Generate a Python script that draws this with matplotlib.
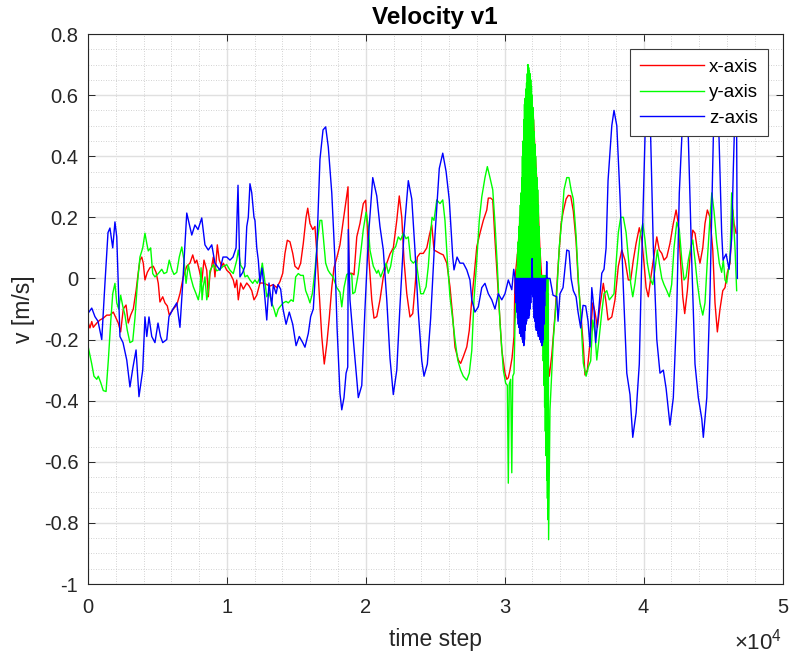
import numpy as np
import matplotlib.pyplot as plt
from matplotlib.ticker import MultipleLocator, FuncFormatter

plt.rcParams['font.family'] = ['Liberation Sans', 'DejaVu Sans']
plt.rcParams['mathtext.fontset'] = 'custom'
plt.rcParams['mathtext.rm'] = 'Liberation Sans'
plt.rcParams['axes.unicode_minus'] = False
plt.rcParams['path.simplify'] = False  # keep the fast oscillation solid

# x-axis velocity (time in thousands of steps, value in m/s)
tk_x = [0.02, 0.14, 0.27, 0.38, 0.63, 0.86, 1.10, 1.35, 1.58, 1.82, 2.02, 2.18, 2.35, 2.54, 2.74,
        2.90, 3.07, 3.26, 3.46, 3.62, 3.74, 3.87, 3.98, 4.10, 4.27, 4.46, 4.70, 4.90, 5.06, 5.18,
        5.38, 5.54, 5.71, 5.85, 6.14, 6.39, 6.62, 6.86, 7.11, 7.34, 7.54, 7.70, 7.83, 8.01, 8.19,
        8.35, 8.55, 8.66, 8.78, 8.91, 9.02, 9.14, 9.31, 9.45, 9.63, 9.74, 9.99, 10.22, 10.46, 10.58,
        10.71, 10.82, 10.99, 11.18, 11.43, 11.61, 11.79, 11.95, 12.15, 12.38, 12.62, 12.87, 13.10,
        13.34, 13.59, 13.82, 14.02, 14.18, 14.35, 14.54, 14.74, 14.90, 15.14, 15.31, 15.50, 15.70,
        15.82, 15.98, 16.18, 16.34, 16.51, 16.65, 16.83, 17.01, 17.19, 17.37, 17.55, 17.71, 17.91,
        18.14, 18.38, 18.58, 18.72, 18.79, 18.99, 19.15, 19.35, 19.58, 19.82, 19.99, 20.11, 20.23,
        20.43, 20.59, 20.79, 21.02, 21.26, 21.51, 21.74, 21.98, 22.23, 22.41, 22.59, 22.75, 22.95,
        23.18, 23.38, 23.54, 23.71, 23.90, 24.14, 24.39, 24.57, 24.75, 24.91, 25.11, 25.34, 25.58,
        25.83, 26.06, 26.26, 26.42, 26.66, 26.83, 27.02, 27.27, 27.45, 27.63, 27.79, 27.99, 28.22,
        28.46, 28.71, 28.82, 28.99, 29.14, 29.30, 29.54, 29.79, 30.02, 30.15, 30.26, 30.38, 30.53,
        30.67, 30.74, 30.96, 31.25, 31.54, 31.82, 32.04, 32.18, 32.35, 32.54, 32.78, 33.03, 33.21,
        33.39, 33.62, 33.86, 34.06, 34.22, 34.42, 34.58, 34.75, 34.94, 35.14, 35.30, 35.50, 35.66,
        35.78, 35.95, 36.14, 36.34, 36.50, 36.67, 36.86, 37.10, 37.30, 37.44, 37.71, 37.94, 38.18,
        38.43, 38.66, 38.90, 39.07, 39.26, 39.46, 39.69, 39.87, 40.03, 40.18, 40.34, 40.51, 40.70,
        40.95, 41.13, 41.31, 41.47, 41.67, 41.90, 42.14, 42.34, 42.50, 42.67, 42.82, 42.96, 43.15,
        43.34, 43.54, 43.70, 43.87, 44.06, 44.26, 44.42, 44.59, 44.78, 44.98, 45.14, 45.31, 45.50,
        45.70, 45.86, 46.03, 46.22, 46.42, 46.51, 46.66]
v_x = [-0.146, -0.162, -0.141, -0.16, -0.146, -0.136, -0.13, -0.12, -0.12, -0.11, -0.13, -0.146,
       -0.175, -0.10, -0.087, -0.146, -0.12, -0.10, -0.04, 0.02, 0.06, 0.07, 0.05, -0.005, 0.02,
       0.035, 0.04, 0.02, -0.016, -0.077, -0.06, -0.08, -0.09, -0.12, -0.10, -0.087, -0.05, 0.005,
       0.04, 0.05, 0.077, 0.05, 0.06, 0.027, -0.012, 0.06, 0.027, -0.06, 0.015, 0.04, 0.07, 0.005,
       0.11, 0.06, 0.04, 0.05, 0.027, 0.017, -0.005, -0.03, -0.005, -0.07, -0.015, -0.035, -0.015,
       -0.025, -0.04, -0.07, -0.055, -0.015, -0.015, -0.02, -0.025, -0.02, -0.03, -0.01, 0.017,
       0.082, 0.125, 0.12, 0.082, 0.04, 0.03, 0.05, 0.115, 0.2, 0.23, 0.18, 0.16, 0.17, 0.06, -0.05,
       -0.19, -0.28, -0.215, -0.13, -0.03, 0.035, 0.067, 0.11, 0.19, 0.255, 0.30, 0.017, 0.017,
       0.012, 0.136, 0.18, 0.245, 0.256, 0.17, 0.06, -0.07, -0.13, -0.125, -0.07, 0.005, 0.05, 0.08,
       0.10, 0.19, 0.27, 0.20, 0.06, -0.05, -0.126, -0.115, -0.03, 0.07, 0.082, 0.082, 0.10, 0.14,
       0.175, 0.093, 0.088, 0.082, 0.077, 0.05, -0.027, -0.126, -0.225, -0.267, -0.278, -0.256,
       -0.224, -0.17, -0.07, 0.005, 0.104, 0.148, 0.19, 0.224, 0.263, 0.263, 0.257, 0.126, -0.05,
       -0.234, -0.31, -0.33, -0.325, -0.30, -0.26, -0.19, 0.0, 0.1, 0.3, 0.5, 0.6, 0.55, 0.42, 0.29,
       0.093, -0.08, -0.234, -0.32, -0.25, -0.12, 0.05, 0.18, 0.22, 0.26, 0.272, 0.27, 0.22, 0.12,
       -0.016, -0.125, -0.22, -0.316, -0.30, -0.21, -0.08, -0.11, -0.16, -0.09, -0.016, -0.08,
       -0.136, -0.126, -0.07, 0.04, 0.093, 0.06, -0.005, -0.005, 0.06, 0.115, 0.166, 0.126, 0.05,
       -0.03, -0.06, 0.0, 0.06, 0.136, 0.093, 0.082, 0.06, 0.07, 0.115, 0.18, 0.224, 0.18, 0.05,
       -0.06, -0.115, -0.04, 0.07, 0.158, 0.148, 0.093, 0.05, 0.10, 0.18, 0.224, 0.2, 0.093, -0.08,
       -0.175, -0.1, -0.04, -0.03, 0.02, 0.05, 0.224, 0.18, 0.148]

# y-axis velocity
tk_y = [0.02, 0.27, 0.43, 0.63, 0.74, 0.91, 1.10, 1.30, 1.46, 1.63, 1.78, 1.94, 2.07, 2.21, 2.35,
        2.50, 2.66, 2.83, 3.02, 3.22, 3.38, 3.55, 3.74, 3.94, 4.10, 4.23, 4.34, 4.51, 4.66, 4.82,
        5.06, 5.31, 5.47, 5.67, 5.85, 6.03, 6.19, 6.39, 6.57, 6.75, 6.91, 7.06, 7.22, 7.39, 7.58,
        7.78, 7.94, 8.06, 8.14, 8.21, 8.30, 8.42, 8.55, 8.66, 8.78, 9.02, 9.27, 9.50, 9.74, 9.99,
        10.22, 10.46, 10.71, 10.82, 10.99, 11.18, 11.30, 11.47, 11.66, 11.86, 12.02, 12.19, 12.38,
        12.55, 12.69, 12.87, 13.03, 13.23, 13.39, 13.54, 13.70, 13.87, 14.06, 14.26, 14.42, 14.62,
        14.78, 14.95, 15.14, 15.31, 15.50, 15.67, 15.84, 15.98, 16.15, 16.34, 16.51, 16.70, 16.83,
        16.94, 17.11, 17.28, 17.42, 17.64, 17.91, 18.14, 18.27, 18.43, 18.63, 18.79, 18.99, 19.06,
        19.22, 19.46, 19.71, 19.82, 20.02, 20.18, 20.30, 20.54, 20.79, 20.90, 21.07, 21.26, 21.46,
        21.62, 21.79, 21.98, 22.15, 22.34, 22.51, 22.70, 22.90, 23.06, 23.23, 23.42, 23.62, 23.78,
        23.95, 24.14, 24.34, 24.50, 24.67, 24.77, 24.91, 25.11, 25.34, 25.54, 25.70, 25.87, 26.06,
        26.26, 26.42, 26.62, 26.83, 27.02, 27.27, 27.45, 27.63, 27.79, 27.99, 28.17, 28.35, 28.58,
        28.75, 28.94, 29.14, 29.30, 29.47, 29.66, 29.90, 30.07, 30.19, 30.26, 30.33, 30.43, 30.51,
        30.58, 30.67, 30.74]
v_y = [-0.225, -0.28, -0.32, -0.33, -0.32, -0.34, -0.367, -0.37, -0.27, -0.146, -0.05, -0.016,
       -0.08, -0.10, -0.055, -0.09, -0.12, -0.17, -0.21, -0.205, -0.13, -0.02, 0.07, 0.10, 0.148,
       0.115, 0.09, 0.10, 0.016, 0.005, 0.016, 0.03, 0.016, 0.02, 0.06, 0.03, 0.013, 0.02, 0.07,
       0.103, 0.06, -0.016, 0.045, 0.005, -0.027, -0.05, -0.07, -0.04, 0.035, -0.07, -0.027, 0.005,
       -0.07, -0.04, 0.025, 0.045, 0.025, 0.03, 0.04, 0.045, 0.027, 0.016, 0.06, 0.093, 0.043, 0.03,
       0.005, 0.01, -0.005, -0.016, -0.005, -0.016, 0.005, 0.05, 0.005, -0.06, -0.045, -0.08, -0.10,
       -0.125, -0.10, -0.09, -0.08, -0.075, -0.08, -0.07, -0.075, 0.005, 0.016, 0.01, 0.01, -0.04,
       -0.06, -0.08, -0.05, 0.027, 0.12, 0.19, 0.19, 0.136, 0.05, 0.027, 0.017, 0.005, -0.03, -0.045,
       -0.093, -0.03, 0.013, 0.017, 0.013, -0.05, -0.045, 0.016, 0.115, 0.16, 0.217, 0.17, 0.093,
       0.04, 0.017, 0.027, 0.005, 0.027, 0.05, 0.017, 0.04, 0.093, 0.104, 0.136, 0.126, 0.148, 0.13,
       0.136, 0.06, 0.05, 0.06, 0.005, -0.05, -0.05, -0.027, 0.04, 0.148, 0.2, 0.19, 0.257, 0.245,
       0.257, 0.19, 0.06, -0.06, -0.136, -0.2, -0.267, -0.3, -0.32, -0.333, -0.31, -0.236, -0.07,
       0.06, 0.19, 0.267, 0.33, 0.366, 0.33, 0.29, 0.18, 0.04, -0.146, -0.30, -0.343, -0.35, -0.67,
       -0.345, -0.33, -0.636, -0.32, -0.31, -0.15]
# y-axis burst (fast oscillation around 3.1e4 - 3.3e4)
tk_y_burst = [30.850, 30.875, 30.900, 30.925, 30.950, 30.975, 31.000, 31.025, 31.050, 31.075,
              31.100, 31.125, 31.150, 31.175, 31.200, 31.225, 31.250, 31.275, 31.300, 31.325,
              31.350, 31.375, 31.400, 31.425, 31.450, 31.475, 31.500, 31.525, 31.550, 31.575,
              31.600, 31.625, 31.650, 31.675, 31.700, 31.725, 31.750, 31.775, 31.800, 31.825,
              31.850, 31.875, 31.900, 31.925, 31.950, 31.975, 32.000, 32.025, 32.050, 32.075,
              32.100, 32.125, 32.150, 32.175, 32.200, 32.225, 32.250, 32.275, 32.300, 32.325,
              32.350, 32.375, 32.400, 32.425, 32.450, 32.475, 32.500, 32.525, 32.550, 32.575,
              32.600, 32.625, 32.650, 32.675, 32.700, 32.725, 32.750, 32.775, 32.800, 32.825,
              32.850, 32.875, 32.900, 32.925, 32.950, 32.975, 33.000, 33.025, 33.050, 33.075,
              33.100, 33.125, 33.140, 33.160]
v_y_burst = [0.0, 0.03, 0.0, 0.08, 0.0, 0.12, -0.01, 0.17, 0.0, 0.20,
             0.0, 0.24, -0.01, 0.28, 0.0, 0.33, 0.0, 0.40, -0.01, 0.45,
             0.0, 0.52, 0.0, 0.57, -0.01, 0.59, 0.0, 0.62, 0.0, 0.64,
             -0.01, 0.67, 0.0, 0.70, 0.0, 0.69, -0.01, 0.68, 0.0, 0.67,
             0.0, 0.65, -0.01, 0.63, 0.0, 0.60, 0.0, 0.56, -0.01, 0.52,
             0.0, 0.48, 0.0, 0.44, -0.01, 0.40, 0.0, 0.36, 0.0, 0.33,
             -0.01, 0.29, 0.0, 0.24, 0.0, 0.17, 0.0, 0.10, 0.01, -0.04,
             0.01, -0.09, 0.0, -0.14, 0.01, -0.20, 0.0, -0.27, 0.01, -0.35,
             0.0, -0.42, 0.01, -0.50, 0.0, -0.58, 0.01, -0.66, 0.0, -0.72,
             0.0, -0.79, -0.05, -0.855]
tk_y_after = [33.26, 33.50, 33.75, 33.93, 34.13, 34.27, 34.47, 34.63, 34.78, 34.94, 35.14, 35.30,
              35.47, 35.66, 35.86, 36.02, 36.19, 36.34, 36.50, 36.63, 36.81, 36.99, 37.15, 37.35,
              37.53, 37.71, 37.87, 38.02, 38.18, 38.35, 38.54, 38.74, 38.90, 39.07, 39.22, 39.38,
              39.55, 39.74, 39.94, 40.10, 40.27, 40.46, 40.66, 40.82, 40.99, 41.13, 41.31, 41.47,
              41.67, 41.85, 42.02, 42.19, 42.39, 42.57, 42.75, 42.91, 43.06, 43.22, 43.39, 43.54,
              43.70, 43.87, 44.06, 44.26, 44.42, 44.59, 44.78, 44.91, 45.07, 45.26, 45.45, 45.62,
              45.74, 45.86, 45.98, 46.10, 46.22, 46.34, 46.46, 46.58, 46.70]
v_y_after = [-0.43, -0.2, -0.05, 0.103, 0.2, 0.29, 0.33, 0.33, 0.29, 0.26, 0.14, 0.0, -0.12, -0.277,
             -0.32, -0.29, -0.27, -0.136, -0.18, -0.267, -0.19, -0.11, -0.05, -0.04, -0.07, -0.06,
             -0.05, 0.05, 0.15, 0.2, 0.2, 0.15, 0.07, -0.016, -0.06, -0.016, 0.05, 0.136, 0.18, 0.126,
             0.05, 0.0, -0.02, 0.03, 0.093, 0.05, 0.0, -0.02, -0.04, -0.06, -0.02, 0.1, 0.184, 0.16,
             0.06, -0.005, 0.005, 0.06, 0.10, 0.126, 0.06, -0.015, -0.08, -0.12, -0.08, 0.06, 0.2,
             0.28, 0.22, 0.12, 0.05, 0.02, 0.06, -0.005, -0.015, 0.025, 0.06, 0.28, 0.2, 0.1, -0.04]

# z-axis velocity
tk_z = [0.02, 0.27, 0.50, 0.72, 0.99, 1.22, 1.44, 1.58, 1.78, 1.94, 2.07, 2.30, 2.52, 2.79, 3.02,
        3.24, 3.46, 3.67, 3.94, 4.10, 4.23, 4.39, 4.59, 4.82, 5.04, 5.22, 5.38, 5.67, 5.83, 6.12,
        6.39, 6.62, 6.82, 7.11, 7.47, 7.70, 7.92, 8.19, 8.42, 8.66, 8.91, 9.14, 9.50, 9.72, 9.99,
        10.22, 10.44, 10.66, 10.80, 10.94, 11.14, 11.30, 11.43, 11.54, 11.66, 11.79, 11.95, 12.02,
        12.15, 12.26, 12.38, 12.53, 12.69, 12.87, 13.03, 13.23, 13.34, 13.54, 13.68, 13.87, 14.04,
        14.26, 14.49, 14.74, 14.98, 15.21, 15.46, 15.62, 15.86, 16.03, 16.22, 16.47, 16.70, 16.92,
        17.11, 17.30, 17.55, 17.78, 17.93, 18.14, 18.27, 18.43, 18.58, 18.70, 18.74, 18.86, 19.10,
        19.35, 19.46, 19.71, 19.94, 20.18, 20.50, 20.79, 21.02, 21.26, 21.51, 21.74, 21.98, 22.23,
        22.46, 22.75, 23.06, 23.31, 23.54, 23.78, 24.03, 24.19, 24.43, 24.67, 24.98, 25.29, 25.54,
        25.78, 26.01, 26.26, 26.35, 26.57, 26.78, 27.02, 27.27, 27.50, 27.63, 27.86, 28.10, 28.35,
        28.58, 28.82, 29.07, 29.30, 29.54, 29.79, 30.02, 30.26, 30.51, 30.65]
v_z = [-0.113, -0.097, -0.125, -0.14, -0.20, -0.016, 0.15, 0.165, 0.10, 0.185, 0.136, -0.19, -0.21,
       -0.267, -0.355, -0.29, -0.234, -0.387, -0.30, -0.126, -0.19, -0.126, -0.19, -0.21, -0.146,
       -0.19, -0.21, -0.2, -0.125, -0.10, -0.08, -0.16, -0.016, 0.214, 0.142, 0.175, 0.16, 0.198,
       0.11, 0.093, 0.11, 0.05, 0.027, 0.07, 0.07, 0.06, 0.07, 0.1, 0.305, 0.005, 0.02, 0.04, 0.17,
       0.2, 0.31, 0.28, 0.2, 0.19, 0.1, 0.06, -0.015, 0.034, -0.04, -0.136, -0.015, -0.09, -0.02,
       -0.05, -0.02, -0.035, -0.1, -0.15, -0.11, -0.15, -0.22, -0.19, -0.21, -0.225, -0.18, -0.125,
       -0.1, 0.093, 0.39, 0.486, 0.496, 0.43, 0.28, 0.06, -0.16, -0.376, -0.43, -0.39, -0.31, -0.29,
       0.16, -0.07, -0.2, -0.33, -0.39, -0.35, -0.1, 0.13, 0.33, 0.27, 0.17, 0.093, -0.07, -0.26,
       -0.38, -0.3, -0.09, 0.15, 0.32, 0.26, 0.093, -0.11, -0.27, -0.32, -0.28, -0.13, 0.14, 0.36,
       0.41, 0.35, 0.257, 0.07, 0.028, 0.07, 0.05, 0.05, 0.028, -0.005, -0.07, -0.11, -0.093, -0.03,
       -0.016, -0.05, -0.07, -0.1, -0.05, -0.07, -0.05, -0.005, -0.037, 0.03]
# z-axis burst
tk_z_burst = [30.750, 30.775, 30.800, 30.825, 30.850, 30.875, 30.900, 30.925, 30.950, 30.975,
              31.000, 31.025, 31.050, 31.075, 31.100, 31.125, 31.150, 31.175, 31.200, 31.225,
              31.250, 31.275, 31.300, 31.325, 31.350, 31.375, 31.400, 31.425, 31.450, 31.475,
              31.500, 31.525, 31.550, 31.575, 31.600, 31.625, 31.650, 31.675, 31.700, 31.725,
              31.750, 31.775, 31.800, 31.825, 31.850, 31.875, 31.900, 31.925, 31.950, 31.975,
              32.000, 32.025, 32.050, 32.075, 32.100, 32.125, 32.150, 32.175, 32.200, 32.225,
              32.250, 32.275, 32.300, 32.325, 32.350, 32.375, 32.400, 32.425, 32.450, 32.475,
              32.500, 32.525, 32.550, 32.575, 32.600, 32.625, 32.650, 32.675, 32.700, 32.725,
              32.750, 32.775, 32.800, 32.825, 32.850, 32.875, 32.900, 32.925, 32.950, 32.975,
              33.000, 33.025, 33.050, 33.075, 33.100]
v_z_burst = [0.0, -0.05, 0.0, -0.08, 0.0, -0.11, 0.0, -0.13, 0.0, -0.15,
             0.0, -0.16, 0.0, -0.18, 0.0, -0.17, 0.0, -0.19, 0.0, -0.18,
             0.0, -0.20, 0.0, -0.21, 0.0, -0.22, 0.0, -0.20, 0.0, -0.17,
             0.0, -0.15, 0.0, -0.14, 0.0, -0.13, 0.0, -0.12, 0.0, -0.13,
             0.0, -0.12, 0.0, -0.10, 0.0, -0.08, 0.0, -0.05, 0.0, 0.065,
             0.0, -0.06, 0.0, -0.10, 0.0, -0.13, 0.0, -0.14, 0.0, -0.16,
             0.0, -0.17, 0.0, -0.16, 0.0, -0.18, 0.0, -0.19, 0.0, -0.18,
             0.0, -0.20, 0.0, -0.19, 0.0, -0.21, 0.0, -0.22, 0.0, -0.21,
             0.0, -0.20, 0.0, -0.15, 0.0, -0.09, 0.0, -0.04, 0.0, 0.0,
             0.0, 0.055, 0.0, 0.0, 0.0]
tk_z_after = [33.26, 33.48, 33.75, 33.84, 33.98, 34.20, 34.47, 34.63, 34.78, 34.94, 35.14, 35.28,
              35.47, 35.64, 35.83, 36.00, 36.14, 36.27, 36.43, 36.55, 36.74, 36.99, 37.15, 37.30,
              37.44, 37.71, 37.87, 38.07, 38.30, 38.54, 38.79, 39.02, 39.22, 39.46, 39.69, 39.86,
              40.10, 40.32, 40.51, 40.70, 40.95, 41.18, 41.42, 41.62, 41.90, 42.14, 42.39, 42.57,
              42.75, 42.98, 43.22, 43.47, 43.70, 43.94, 44.19, 44.30, 44.55, 44.78, 45.02, 45.22,
              45.43, 45.62, 45.72, 45.94, 46.15, 46.34, 46.46, 46.58, 46.69, 46.75]
v_z_after = [0.0, -0.055, -0.06, -0.14, -0.05, -0.03, 0.093, 0.09, 0.0, -0.04, -0.06, -0.11, -0.162,
             -0.088, -0.09, -0.14, -0.224, -0.03, -0.10, -0.21, -0.12, 0.017, 0.03, 0.1, 0.32, 0.5,
             0.55, 0.5, 0.27, -0.03, -0.31, -0.38, -0.52, -0.44, -0.28, 0.05, 0.46, 0.62, 0.46, 0.1,
             -0.2, -0.31, -0.30, -0.36, -0.48, -0.39, -0.1, 0.28, 0.46, 0.6, 0.46, 0.05, -0.28, -0.39,
             -0.46, -0.52, -0.39, -0.05, 0.46, 0.58, 0.46, 0.15, 0.06, 0.08, 0.03, 0.13, 0.36, 0.55,
             0.55, 0.0]

# join pieces, thousands -> time steps
t_x = np.array(tk_x) * 1000
t_y = np.array(tk_y + tk_y_burst + tk_y_after) * 1000
t_z = np.array(tk_z + tk_z_burst + tk_z_after) * 1000
vy_all = v_y + v_y_burst + v_y_after
vz_all = v_z + v_z_burst + v_z_after

fig = plt.figure(figsize=(7.91, 6.57), dpi=100)
ax = fig.add_axes([88 / 791, 1 - 584 / 657, (782.5 - 88) / 791, 550 / 657])

ax.plot(t_x, v_x, color=(1, 0, 0), lw=1.0, label='x-axis')
ax.plot(t_y, vy_all, color=(0, 1, 0), lw=1.0, label='y-axis')
ax.plot(t_z, vz_all, color=(0, 0, 1), lw=1.0, label='z-axis')

ax.set_xlim(0, 50000)
ax.set_ylim(-1, 0.8)
ax.xaxis.set_major_locator(MultipleLocator(10000))
ax.xaxis.set_minor_locator(MultipleLocator(2000))
ax.yaxis.set_major_locator(MultipleLocator(0.2))
ax.yaxis.set_minor_locator(MultipleLocator(0.05))
ax.xaxis.set_major_formatter(FuncFormatter(lambda x, p: '%g' % (x / 1e4)))
ax.yaxis.set_major_formatter(FuncFormatter(lambda y, p: '%g' % (round(y, 2) + 0.0)))

# matlab style grid
ax.set_axisbelow(True)
ax.grid(which='major', color='#e0e0e0', lw=1.0, ls='-')
ax.grid(which='minor', color='#c4c4c4', lw=0.6, ls=(0, (1, 2)))
ax.tick_params(which='both', direction='in', top=True, right=True, colors='#262626',
               labelsize=14.5)
ax.tick_params(which='major', length=5, width=0.7)
ax.tick_params(which='minor', length=0)
ax.tick_params(axis='y', pad=7)
ax.tick_params(axis='x', pad=10)
for s in ax.spines.values():
    s.set_color('#262626')
    s.set_linewidth(0.8)

ax.set_xlabel('time step', fontsize=16.5, color='#262626', labelpad=8)
ax.set_ylabel('v [m/s]', fontsize=16.5, color='#262626', labelpad=6)
ax.set_title('Velocity v1', fontsize=17.5, fontweight='bold', color='black', pad=7)
fig.text(782.5 / 791, 1 - 642 / 657, r'$\times10^{4}$', ha='right', va='center',
         fontsize=16, color='#262626')

leg = ax.legend(loc='upper right', fontsize=13.5, fancybox=False, framealpha=1,
                edgecolor='#3c3c3c', handlelength=3.4, borderaxespad=0.8,
                labelspacing=0.45, borderpad=0.5, handletextpad=0.3)
leg.get_frame().set_linewidth(0.8)

fig.savefig('out.png', dpi=100)
